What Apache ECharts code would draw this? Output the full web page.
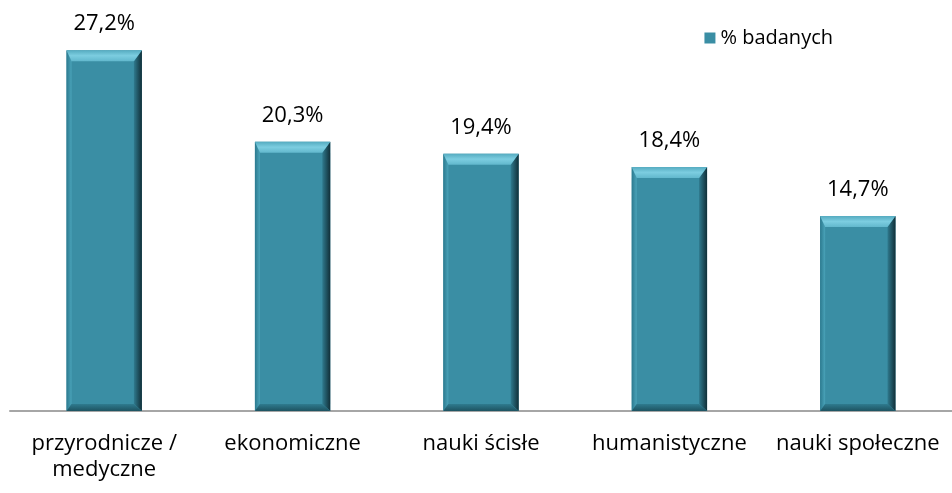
<!DOCTYPE html>
<html><head><meta charset="utf-8">
<script src="https://cdn.jsdelivr.net/npm/echarts@6/dist/echarts.min.js"></script>
<style>html,body{margin:0;padding:0;background:#fff}#c{width:952px;height:493px}</style>
</head><body><div id="c"></div>
<script>
const categories = ['przyrodnicze /\nmedyczne', 'ekonomiczne', 'nauki ścisłe', 'humanistyczne', 'nauki społeczne'];
const values = [27.2, 20.3, 19.4, 18.4, 14.7];
const seriesName = '% badanych';

const FONT = '"Open Sans", "Noto Sans", sans-serif';
const chart = echarts.init(document.getElementById('c'));
const BW = 0.4;
const LG = echarts.graphic.LinearGradient;
function bevel(params, api) {
  const idx = api.value(0), v = api.value(1);
  const top = api.coord([idx, v]);
  const base = api.coord([idx, 0]);
  const w = api.size([1, 0])[0] * BW;
  const x0 = top[0] - w / 2, x1 = top[0] + w / 2, y0 = top[1], y1 = base[1];
  const bt = 11, br = 8, bl = 5, bb = 7;
  return {type: 'group', children: [
    {type: 'polygon', shape: {points: [[x0, y0], [x0 + bl, y0 + bt], [x0 + bl, y1 - bb], [x0, y1]]},
      style: {fill: new LG(0, 0, 1, 0, [{offset: 0, color: '#2c7a8f'}, {offset: 1, color: '#4aa3b9'}])}},
    {type: 'polygon', shape: {points: [[x1, y0], [x1, y1], [x1 - br, y1 - bb], [x1 - br, y0 + bt]]},
      style: {fill: new LG(0, 0, 1, 0, [{offset: 0, color: '#2f7a8e'}, {offset: 1, color: '#112f38'}])}},
    {type: 'polygon', shape: {points: [[x0, y1], [x1, y1], [x1 - br, y1 - bb], [x0 + bl, y1 - bb]]},
      style: {fill: new LG(0, 0, 0, 1, [{offset: 0, color: '#2f7b8f'}, {offset: 1, color: '#1d5361'}])}},
    {type: 'polygon', shape: {points: [[x0, y0], [x1, y0], [x1 - br, y0 + bt], [x0 + bl, y0 + bt]]},
      style: {fill: new LG(0, 0, 0, 1, [{offset: 0, color: '#55abc0'}, {offset: 0.5, color: '#7ccde0'}, {offset: 1, color: '#62b8cd'}])}}
  ]};
}
chart.setOption({
  animation: false,
  grid: {left: 10, right: 0, top: 13, bottom: 82},
  legend: {
    data: [{name: seriesName, icon: 'rect'}],
    right: 114, top: 23, itemWidth: 11, itemHeight: 11, itemGap: 3,
    textStyle: {fontFamily: FONT, fontSize: 20, color: '#000'}
  },
  xAxis: {
    type: 'category', data: categories,
    axisLine: {lineStyle: {color: '#a6a6a6', width: 2}},
    axisTick: {show: false},
    axisLabel: {fontFamily: FONT, fontSize: 22, color: '#000', margin: 20, lineHeight: 26, interval: 0}
  },
  yAxis: {type: 'value', min: 0, max: 30, show: false, splitLine: {show: false}},
  series: [{
    name: seriesName, type: 'bar', data: values, barWidth: '40%',
    itemStyle: {color: '#3a8ea4'},
    label: {show: true, position: 'top', distance: 15, fontFamily: FONT, fontSize: 22, color: '#000',
      formatter: p => p.value.toFixed(1).replace('.', ',') + '%'}
  }, {
    type: 'custom', name: 'bevel', silent: true, z: 5,
    encode: {x: 0, y: 1},
    data: values.map((v, i) => [i, v]),
    renderItem: bevel
  }]
});
</script></body></html>
